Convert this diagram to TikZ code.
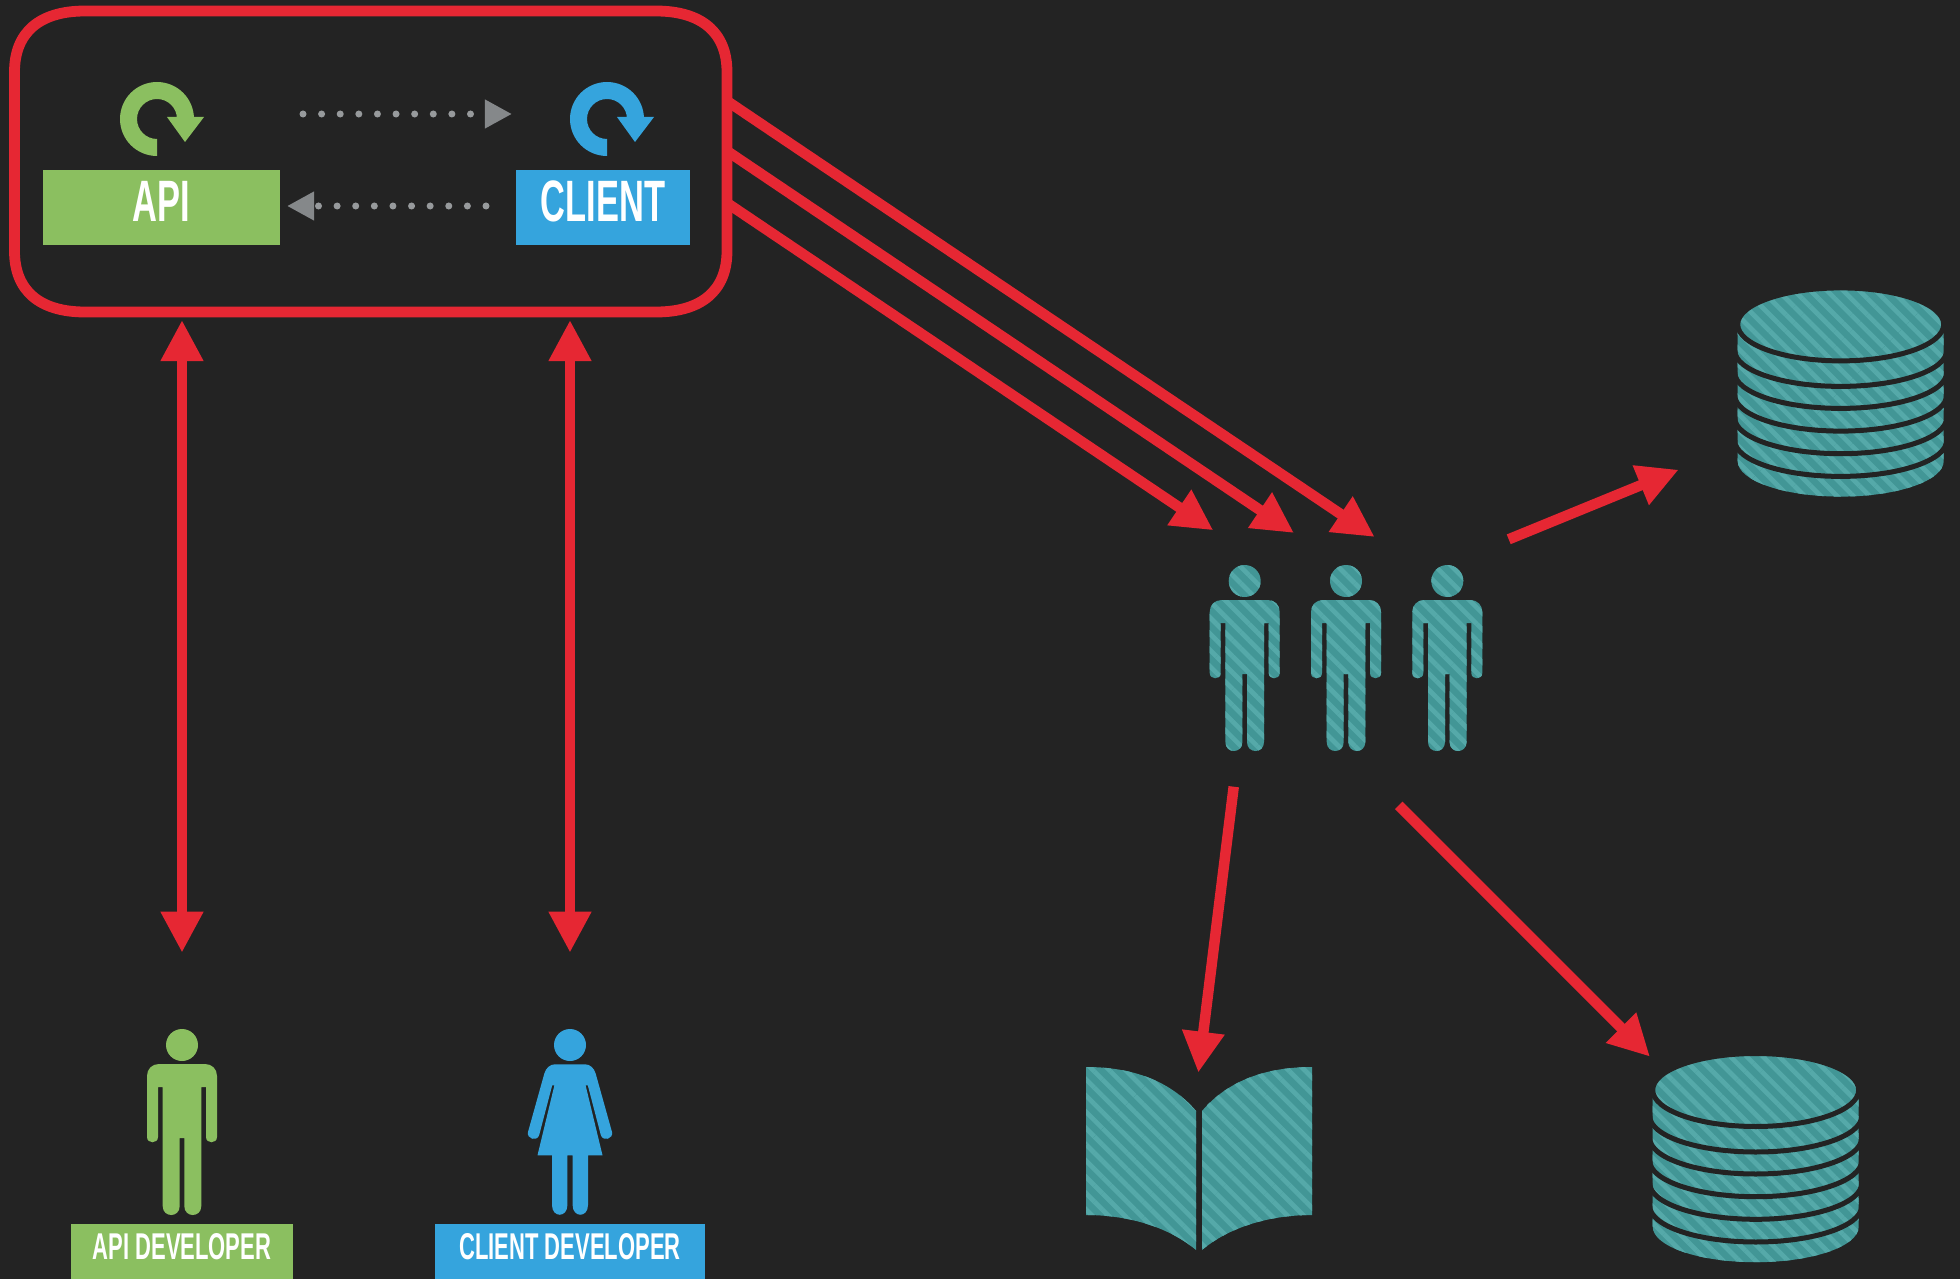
\documentclass[tikz,border=0pt]{standalone}
\usepackage{fontspec}
\usepackage{tikz}
\usetikzlibrary{arrows.meta,patterns.meta,positioning}
\newfontfamily\dinfont[FakeStretch=0.59]{Liberation Sans}
\definecolor{bgdark}{HTML}{232323}
\definecolor{signalred}{HTML}{E62733}
\definecolor{devgreen}{HTML}{8BBF60}
\definecolor{devblue}{HTML}{35A4DD}
\definecolor{tealbase}{HTML}{429696}
\definecolor{teallight}{HTML}{55A9A9}
\definecolor{flowgray}{HTML}{85888A}
\tikzset{
    stripefill/.style={fill=tealbase,postaction={pattern={Lines[angle=-45,distance=.115cm,line width=.047cm]},pattern color=teallight}},
    redarrow/.style={draw=signalred,line width=.105cm,-{Triangle[length=.41cm,width=.4cm]}},
    redboth/.style={draw=signalred,line width=.105cm,{Triangle[length=.41cm,width=.4cm]}-{Triangle[length=.41cm,width=.4cm]}},
    flowarrow/.style={draw=flowgray!85!white,line width=.07cm,line cap=round,dash pattern=on 0pt off .186cm,-{Triangle[length=.27cm,width=.27cm,fill=flowgray,color=flowgray]}},
    appframe/.style={draw=signalred,line width=.108cm},
    bigtag/.style={inner sep=0pt,text=white,minimum width=#1,text height=.517cm,text depth=.233cm,font=\dinfont\bfseries\fontsize{16.6}{16.6}\selectfont},
    smalltag/.style={inner sep=0pt,text=white,minimum width=#1,text height=.35cm,text depth=.2cm,font=\dinfont\bfseries\fontsize{10.6}{10.6}\selectfont},
    pics/manfig/.style={code={
        \path[#1] (0,0) circle [radius=16]
            (-35,31) .. controls (-35,24) and (-30,19) .. (-23,19) -- (23,19) .. controls (30,19) and (35,24) .. (35,31)
            -- (35,92) .. controls (35,99) and (24,99) .. (24,92) -- (24,42) -- (19.3,42)
            -- (19.3,161) .. controls (19.3,173) and (2.3,173) .. (2.3,161) -- (2.3,93) -- (-2.3,93)
            -- (-2.3,161) .. controls (-2.3,173) and (-19.3,173) .. (-19.3,161) -- (-19.3,42) -- (-24,42)
            -- (-24,92) .. controls (-24,99) and (-35,99) .. (-35,92) -- cycle;
    }},
    pics/womanfig/.style={code={
        \path[pic actions] (0,0) circle [radius=16]
            (-15,19.3) -- (15,19.3) .. controls (20,19.3) and (24,23) .. (25.6,28.3)
            -- (42,87) .. controls (43.5,94) and (33,97) .. (30.8,90) -- (17.8,40.3) -- (15.6,40.3)
            -- (32.5,110.3) -- (18,110.3) -- (18,160) .. controls (18,173) and (2.6,173) .. (2.6,160) -- (2.6,110.3)
            -- (-2.6,110.3) -- (-2.6,160) .. controls (-2.6,173) and (-18,173) .. (-18,160) -- (-18,110.3) -- (-32.5,110.3)
            -- (-15.6,40.3) -- (-17.8,40.3) -- (-30.8,90) .. controls (-33,97) and (-43.5,94) .. (-42,87)
            -- (-25.6,28.3) .. controls (-24,23) and (-20,19.3) .. (-15,19.3) -- cycle;
    }},
    pics/refreshfig/.style={code={
        \path[pic actions] (0,37) arc [start angle=90,end angle=360,radius=37] -- (20,0)
            arc [start angle=360,end angle=90,radius=20] -- cycle
            (10,-2) -- (47,-2) -- (28,23) -- cycle;
    }},
    pics/stackfig/.style={code={
        \path[stripefill] (-103,8) -- (-103,136.7) arc [start angle=180,end angle=0,x radius=103,y radius=35.5] -- (103,8) -- cycle;
        \foreach \c in {62,84,106.7,129.3,152} {
            \draw[bgdark,line width=.05cm] (-106,\c-36) arc [start angle=180,end angle=0,x radius=106,y radius=36];
        }
        \path[stripefill] (0,0) ellipse [x radius=103,y radius=36.5];
        \draw[bgdark,line width=.05cm] (0,0) ellipse [x radius=103,y radius=36.5];
    }},
    pics/bookfig/.style={code={
        \path[stripefill] (-113,0) .. controls (-60,0) and (-25,18) .. (-3,44) -- (-3,183)
            .. controls (-29,161) and (-69,148) .. (-113,148) -- cycle;
        \path[stripefill] (113,0) .. controls (60,0) and (25,18) .. (3,44) -- (3,183)
            .. controls (29,161) and (69,148) .. (113,148) -- cycle;
    }},
}
\begin{document}
\begin{tikzpicture}[x=.01cm,y=-.01cm]
    \useasboundingbox (0,0) rectangle (1960,1279);
    \fill[bgdark] (0,0) rectangle (1960,1279);
    \coordinate (frameA) at (727,101);
    \coordinate (frameB) at (727,151);
    \coordinate (frameC) at (727,203);
    \coordinate (crowdA) at (1374.7,537);
    \coordinate (crowdB) at (1294,533);
    \coordinate (crowdC) at (1213.3,530.3);
    \coordinate (apiTop) at (182,320);
    \coordinate (apiDown) at (182,952.7);
    \coordinate (clientTop) at (570,320);
    \coordinate (clientDown) at (570,952.7);
    \coordinate (crowdOutA) at (1508.7,539.3);
    \coordinate (stackA) at (1678.7,469.7);
    \coordinate (crowdOutB) at (1233.7,786.7);
    \coordinate (bookTip) at (1198.3,1072.7);
    \coordinate (crowdOutC) at (1398.7,805.3);
    \coordinate (stackB) at (1650,1056.7);
    \coordinate (flowA) at (303,114);
    \coordinate (flowB) at (512,114);
    \coordinate (flowC) at (486,206);
    \coordinate (flowD) at (287,206);
    \draw[redarrow] (frameA) -- (crowdA);
    \draw[redarrow] (frameB) -- (crowdB);
    \draw[redarrow] (frameC) -- (crowdC);
    \draw[appframe] (14.5,72) .. controls (14.5,32) and (40,11) .. (85,11) -- (656,11) .. controls (701,11) and (727,32) .. (727,72)
        -- (727,251) .. controls (727,291) and (701,312) .. (656,312) -- (85,312) .. controls (40,312) and (14.5,291) .. (14.5,251) -- cycle;
    \node[bigtag=2.37cm,fill=devgreen] (api) at (161.5,207.5) {API};
    \node[bigtag=1.74cm,fill=devblue] (client) at (603,207.5) {CLIENT};
    \pic[fill=devgreen] at (157,119) {refreshfig};
    \pic[fill=devblue] at (607,119) {refreshfig};
    \draw[flowarrow] (flowA) -- (flowB);
    \draw[flowarrow] (flowC) -- (flowD);
    \draw[redboth] (apiTop) -- (apiDown);
    \draw[redboth] (clientTop) -- (clientDown);
    \pic at (182,1045) {manfig={fill=devgreen}};
    \pic[fill=devblue] at (570,1045) {womanfig};
    \node[smalltag=2.22cm,fill=devgreen] (apidev) at (182,1251.5) {API DEVELOPER};
    \node[smalltag=2.7cm,fill=devblue] (clientdev) at (570,1251.5) {CLIENT DEVELOPER};
    \pic at (1244.7,581) {manfig=stripefill};
    \pic at (1346,581) {manfig=stripefill};
    \pic at (1447.3,581) {manfig=stripefill};
    \draw[redarrow] (crowdOutA) -- (stackA);
    \draw[redarrow] (crowdOutB) -- (bookTip);
    \draw[redarrow] (crowdOutC) -- (stackB);
    \pic at (1840.7,324.4) {stackfig};
    \pic at (1755.7,1090) {stackfig};
    \pic at (1199,1067) {bookfig};
\end{tikzpicture}
\end{document}
